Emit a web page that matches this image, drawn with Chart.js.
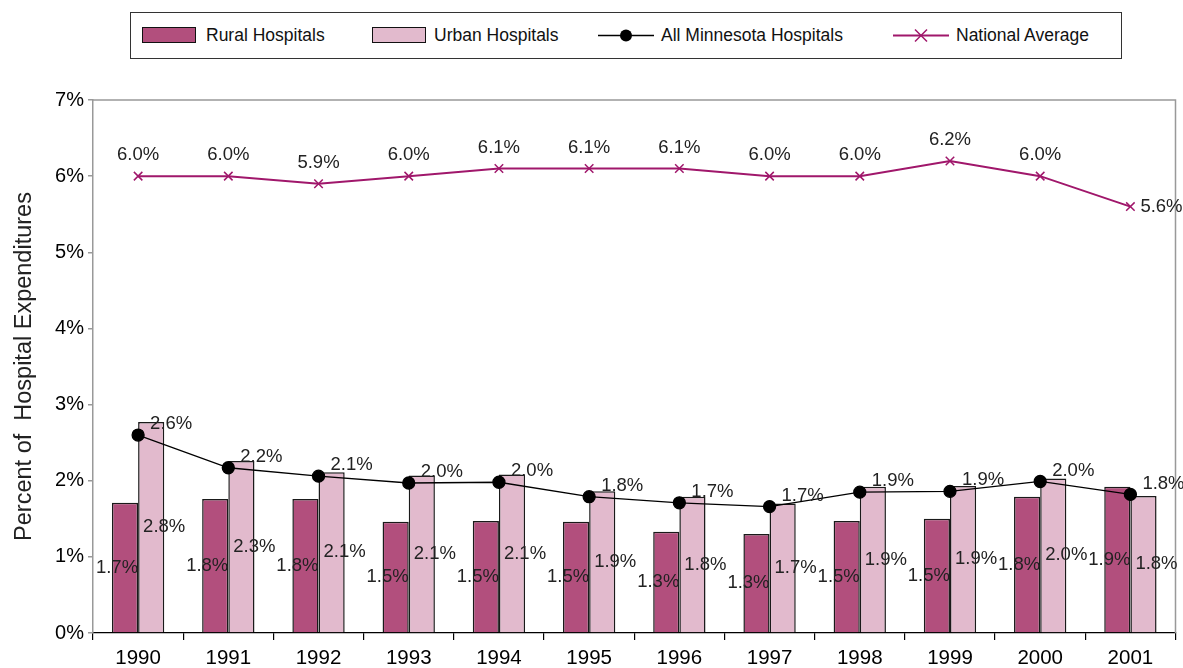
<!DOCTYPE html>
<html>
<head>
<meta charset="utf-8">
<script src="https://cdn.jsdelivr.net/npm/chart.js@4.4.0/dist/chart.umd.min.js"></script>
<style>
	body { margin: 0; background: #fff; font-family: "Liberation Sans", Arial, sans-serif; }
	#wrap { position: relative; width: 1183px; height: 668px; }
	#legend { position: absolute; left: 130px; top: 12px; width: 990px; height: 45px; border: 1px solid #333; background: #fff; }
	#legend .item { position: absolute; top: 0; height: 45px; line-height: 45px; font-size: 17.5px; color: #111; white-space: nowrap; }
	#legend .sw { position: absolute; top: 14px; width: 54px; height: 16px; border: 1px solid #111; box-sizing: border-box; }
	#legend svg { position: absolute; top: 10px; }
</style>
</head>
<body>
<div id="wrap">
	<canvas id="chart" width="1183" height="668"></canvas>
	<div id="legend">
		<div class="sw" style="left:11px;background:#B24F7D"></div>
		<div class="item" style="left:75px">Rural Hospitals</div>
		<div class="sw" style="left:241px;background:#E2BACD"></div>
		<div class="item" style="left:303px">Urban Hospitals</div>
		<svg style="left:467px" width="56" height="25"><line x1="0" y1="12.5" x2="56" y2="12.5" stroke="#000" stroke-width="1.5"/><circle cx="28" cy="12.5" r="6" fill="#000"/></svg>
		<div class="item" style="left:530px">All Minnesota Hospitals</div>
		<svg style="left:762px" width="56" height="25"><line x1="0" y1="12.5" x2="56" y2="12.5" stroke="#A0176B" stroke-width="2"/><path d="M22 6.5 L34 18.5 M34 6.5 L22 18.5" stroke="#A0176B" stroke-width="1.5"/></svg>
		<div class="item" style="left:825px">National Average</div>
	</div>
</div>
<script>
var years = ['1990', '1991', '1992', '1993', '1994', '1995', '1996', '1997', '1998', '1999', '2000', '2001'];
var rural = [1.71, 1.76, 1.76, 1.46, 1.47, 1.46, 1.33, 1.30, 1.47, 1.50, 1.79, 1.92];
var urban = [2.77, 2.26, 2.11, 2.07, 2.08, 1.86, 1.79, 1.70, 1.92, 1.93, 2.03, 1.80];
var allMinnesota = [2.60, 2.17, 2.06, 1.97, 1.98, 1.79, 1.71, 1.66, 1.85, 1.86, 1.99, 1.82];
var national = [6.0, 6.0, 5.9, 6.0, 6.1, 6.1, 6.1, 6.0, 6.0, 6.2, 6.0, 5.6];
var yTicks = [0, 1, 2, 3, 4, 5, 6, 7];

var fontFamily = '"Liberation Sans", Arial, sans-serif';
var pct = function(v) { return v.toFixed(1) + '%'; };

// gray frame on top and right of the plot area
var frame = {
	id: 'frame',
	beforeDatasetsDraw: function(chart) {
		var a = chart.chartArea, c = chart.ctx;
		c.save();
		c.strokeStyle = '#999';
		c.lineWidth = 1.5;
		c.beginPath();
		c.moveTo(a.left, a.top);
		c.lineTo(a.right, a.top);
		c.lineTo(a.right, a.bottom);
		c.stroke();
		c.restore();
	}
};

// value labels, placed like the excel original
var valueLabels = {
	id: 'valueLabels',
	afterDatasetsDraw: function(chart) {
		var c = chart.ctx;
		c.save();
		c.font = '18.5px ' + fontFamily;
		c.fillStyle = '#222';
		c.textBaseline = 'middle';
		chart.data.datasets.forEach(function(ds, i) {
			var meta = chart.getDatasetMeta(i);
			meta.data.forEach(function(el, j) {
				var txt = pct(ds.data[j]);
				if (ds.key == 'rural' || ds.key == 'urban') {
					var midY = (el.y + el.base) / 2;
					c.textAlign = 'center';
					c.fillText(txt, el.x + (ds.key == 'rural' ? -8 : 13), midY);
				} else if (ds.key == 'mn') {
					c.textAlign = 'left';
					c.fillText(txt, el.x + 12, el.y - 11);
				} else {
					if (j == ds.data.length - 1) {
						c.textAlign = 'left';
						c.fillText(txt, el.x + 10, el.y);
					} else {
						c.textAlign = 'center';
						c.fillText(txt, el.x, el.y - 21);
					}
				}
			});
		});
		c.restore();
	}
};

var ctx = document.getElementById('chart').getContext('2d');
var chart = new Chart(ctx, {
	type: 'bar',
	data: {
		labels: years,
		datasets: [{
			key: 'national',
			type: 'line',
			label: 'National Average',
			data: national,
			borderColor: '#A0176B',
			borderWidth: 2,
			pointStyle: 'crossRot',
			pointRadius: 6,
			pointBorderColor: '#A0176B',
			pointBorderWidth: 1.5,
			order: 0
		}, {
			key: 'mn',
			type: 'line',
			label: 'All Minnesota Hospitals',
			data: allMinnesota,
			borderColor: '#000',
			borderWidth: 1.3,
			pointRadius: 6,
			pointBackgroundColor: '#000',
			pointBorderColor: '#000',
			order: 1
		}, {
			key: 'rural',
			label: 'Rural Hospitals',
			data: rural,
			backgroundColor: '#B24F7D',
			borderColor: '#1a1a1a',
			borderWidth: 1.5,
			categoryPercentage: 0.58,
			barPercentage: 1.0,
			order: 2
		}, {
			key: 'urban',
			label: 'Urban Hospitals',
			data: urban,
			backgroundColor: '#E2BACD',
			borderColor: '#1a1a1a',
			borderWidth: 1.5,
			categoryPercentage: 0.58,
			barPercentage: 1.0,
			order: 2
		}]
	},
	options: {
		responsive: false,
		animation: false,
		layout: { padding: { top: 100, right: 6, left: 0, bottom: 0 } },
		plugins: {
			legend: { display: false },
			tooltip: { enabled: false }
		},
		scales: {
			x: {
				offset: true,
				grid: { offset: true, drawOnChartArea: false, tickLength: 7, color: '#000', lineWidth: 1.2 },
				border: { color: '#000', width: 1.2 },
				ticks: { color: '#000', font: { size: 20.5, family: fontFamily }, padding: 6, maxRotation: 0 },
				afterFit: function(s) { s.height = 35; }
			},
			y: {
				min: 0,
				max: 7,
				afterBuildTicks: function(s) { s.ticks = yTicks.map(function(v) { return { value: v }; }); },
				grid: { drawOnChartArea: false, tickLength: 5, color: '#999', lineWidth: 1.5 },
				border: { color: '#999', width: 1.5 },
				ticks: { color: '#000', font: { size: 20, family: fontFamily }, padding: 4, callback: function(v) { return v + '%'; } },
				title: { display: true, text: 'Percent of  Hospital Expenditures', color: '#222', font: { size: 23.5, family: fontFamily }, padding: { top: 10, bottom: 0 } },
				afterFit: function(s) { s.width = 93; }
			}
		}
	},
	plugins: [frame, valueLabels]
});
</script>
</body>
</html>
